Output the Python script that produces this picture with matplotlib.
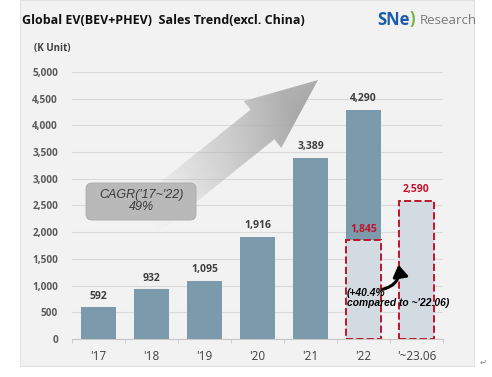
import numpy as np
import matplotlib
matplotlib.use("Agg")
from matplotlib import pyplot as plt
from matplotlib.patches import Polygon, Rectangle, FancyBboxPatch

# data
years = ["'17", "'18", "'19", "'20", "'21", "'22", "'~23.06"]
sales = [592, 932, 1095, 1916, 3389, 4290, 2590]
half_22 = 1845
y_ticks = list(range(0, 5001, 500))

BAR = "#7b9aac"
LIGHT = "#d2dbe1"
RED = "#c0142a"
TXT = "#404040"
ITAL = ["Liberation Sans", "DejaVu Sans"]

plt.rcParams["font.family"] = ["Open Sans", "DejaVu Sans"]

W, H = 492, 377
fig = plt.figure(figsize=(W / 100, H / 100), dpi=100)
fig.patch.set_facecolor("white")

# background panel (pixel coords)
bg = fig.add_axes([0, 0, 1, 1], zorder=0)
bg.set_xlim(0, W)
bg.set_ylim(H, 0)
bg.axis("off")
bg.add_patch(Rectangle((20, 0), 454, 366, facecolor="#f2f2f2", edgecolor="#e2e2e2", lw=0.8))

ax = fig.add_axes([72 / W, 38 / H, 371 / W, 267 / H], zorder=1)
ax.set_facecolor("none")
x = np.arange(len(years))
w = 0.67

ax.bar(x[:6], sales[:6], width=w, color=BAR, zorder=2)
ax.bar(x[5], half_22, width=w, color=LIGHT, edgecolor=RED, linestyle="--", lw=1.4, zorder=3)
ax.bar(x[6], sales[6], width=w, color=LIGHT, edgecolor=RED, linestyle="--", lw=1.4, zorder=3)

for i in range(7):
    c = RED if i == 6 else TXT
    ax.annotate(f"{sales[i]:,}", (x[i], sales[i]), xytext=(0, 4), textcoords="offset points",
                ha="center", va="bottom", fontsize=7.5, color=c, fontweight="bold")
ax.annotate(f"{half_22:,}", (x[5], half_22), xytext=(0, 4), textcoords="offset points",
            ha="center", va="bottom", fontsize=7.5, color=RED, fontweight="bold")

ax.set_xlim(-0.5, 6.5)
ax.set_ylim(0, 5000)
ax.set_yticks(y_ticks)
ax.set_yticklabels([f"{v:,}" for v in y_ticks], fontweight="bold")
ax.set_xticks(x)
ax.set_xticklabels(years)
ax.set_xticks(np.arange(-0.5, 7, 1), minor=True)
ax.tick_params(axis="y", length=0, pad=10, labelsize=7.2, labelcolor="#5a5a5a")
ax.tick_params(axis="x", which="major", length=0, pad=8, labelsize=8.5, labelcolor=TXT)
ax.tick_params(axis="x", which="minor", length=3, color="#c8c8c8")
ax.grid(axis="y", color="#dadada", lw=0.8, zorder=0)
for s in ["top", "right", "left"]:
    ax.spines[s].set_visible(False)
ax.spines["bottom"].set_color("#c8c8c8")
ax.spines["bottom"].set_zorder(1)

# black curved arrow + note
ax.annotate("", xy=(5.66, 1390), xytext=(5.36, 930),
            arrowprops=dict(arrowstyle="-|>,head_width=0.45,head_length=0.7", color="black",
                            lw=2.2, shrinkA=0, shrinkB=0,
                            connectionstyle="arc3,rad=0.45"), zorder=5)
ax.text(4.69, 960, "(+40.4%\ncompared to ~'22.06)", fontsize=7.4, style="italic",
        fontweight="bold", color="black", ha="left", va="top", linespacing=1.0, zorder=6,
        family=ITAL)

# top layer: gradient arrow and CAGR box
top = fig.add_axes([0, 0, 1, 1], zorder=2)
top.set_xlim(0, W)
top.set_ylim(H, 0)
top.axis("off")

tip = np.array([318.0, 80.0])
base = np.array([262.5, 124.5])
d = (tip - base) / np.linalg.norm(tip - base)
p = np.array([-d[1], d[0]])
hw, sw, L = 30, 19, 150
tail = base - L * d
pts = [tip, base - hw * p, base - sw * p, tail - sw * p, tail + sw * p, base + sw * p, base + hw * p]
poly = Polygon(pts, closed=True, facecolor="none", edgecolor="none")
top.add_patch(poly)
yy, xx = np.mgrid[0:H, 0:W] + 0.5
rel = np.stack([xx - tail[0], yy - tail[1]], axis=-1)
t = np.clip((rel @ d) / np.linalg.norm(tip - tail), 0, 1)
s = np.clip((rel @ p) / (2 * hw) + 0.5, 0, 1)
img = np.zeros((H, W, 4))
g = 0.72 - 0.08 * s
img[..., 0] = g
img[..., 1] = g
img[..., 2] = g
img[..., 3] = np.clip(t ** 1.2 * 1.25, 0, 1)
im = top.imshow(img, extent=(0, W, H, 0), origin="upper", interpolation="bilinear")
im.set_clip_path(poly)
top.set_xlim(0, W)
top.set_ylim(H, 0)

top.add_patch(FancyBboxPatch((86, 183), 110, 37, boxstyle="round,pad=0,rounding_size=6",
                             facecolor="#b9b9b9", edgecolor="#aaaaaa", lw=0.6))
top.text(141, 201, "CAGR('17~'22)\n49%", ha="center", va="center", fontsize=9,
         style="italic", color="#3a3a3a", linespacing=1.05, family=ITAL)

# titles and logo
top.text(22, 20, "Global EV(BEV+PHEV)  Sales Trend(excl. China)", fontsize=9, fontweight="bold",
         color="#111111", ha="left", va="center")
top.text(34, 48, "(K Unit)", fontsize=7, fontweight="bold", color=TXT, ha="left", va="center")
top.text(377, 20, "SNe", fontsize=12, fontweight="bold", color="#1b5ca8", ha="left", va="center")
top.text(410, 19, ")", fontsize=12, fontweight="bold", color="#6fb43f", ha="left", va="center")
top.text(420, 20, "Research", fontsize=9.5, color="#7a7a7a", ha="left", va="center")
top.text(483, 362, "\u21b5", fontsize=6, color="#888888", ha="center", va="center",
         family=["DejaVu Sans"])

fig.savefig("out.png", dpi=100)
